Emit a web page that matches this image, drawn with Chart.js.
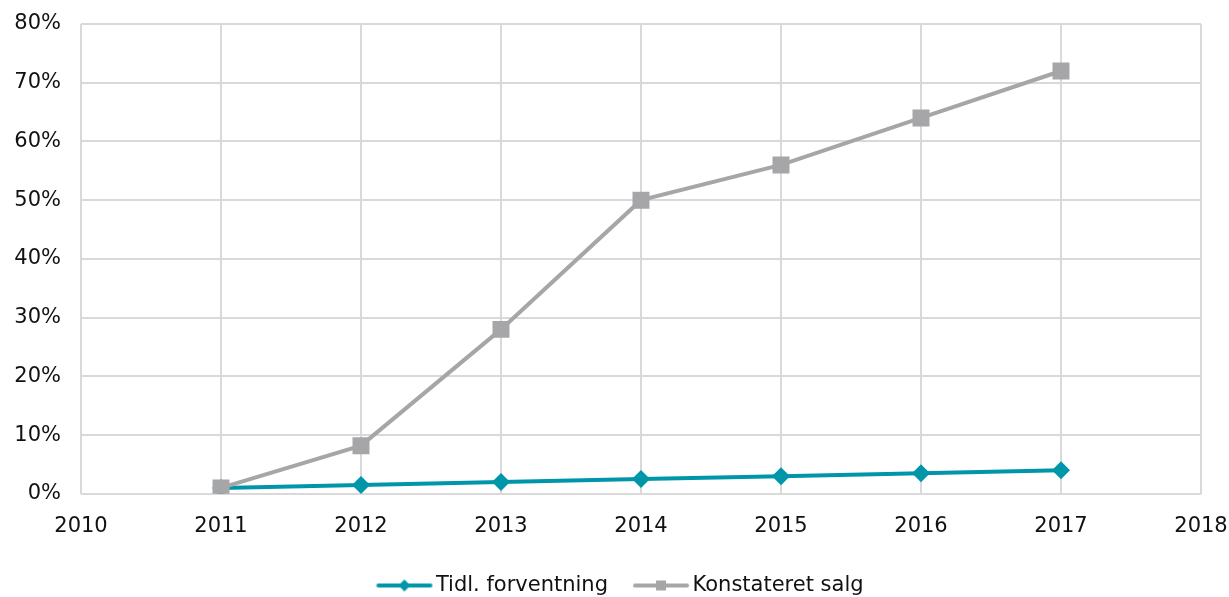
<!DOCTYPE html>
<html lang="da">
<head>
<meta charset="utf-8">
<title>Tidl. forventning vs. konstateret salg</title>
<script src="https://cdn.jsdelivr.net/npm/chart.js@4"></script>
<style>
  html, body { margin: 0; padding: 0; background: #fff; }
  #wrap { width: 1229px; height: 597px; }
</style>
</head>
<body>
<div id="wrap"><canvas id="chart"></canvas></div>
<script>
// ---- data ----
const years = [2011, 2012, 2013, 2014, 2015, 2016, 2017];
const tidlForventning = [1, 1.5, 2, 2.5, 3, 3.5, 4];
const konstateretSalg = [1, 8.2, 28, 50, 56, 64, 72];
const seriesNames = ['Tidl. forventning', 'Konstateret salg'];

const TEAL = '#0096A9';
const GREY = '#A6A6A9';
const GRID = '#D9D9D9';
const FONT = 'DejaVu Sans, Verdana, sans-serif';

// legend sample: a short line with the marker in the middle,
// drawn in the right part of the icon so the label sits close to it
function legendIcon(color, shape) {
  const c = document.createElement('canvas');
  c.width = 74; c.height = 14;
  const g = c.getContext('2d');
  g.strokeStyle = color;
  g.lineWidth = 4;
  g.lineCap = 'round';
  g.beginPath(); g.moveTo(19, 7); g.lineTo(71, 7); g.stroke();
  g.fillStyle = color;
  if (shape === 'diamond') {
    g.beginPath(); g.moveTo(45, 1); g.lineTo(51, 7); g.lineTo(45, 13); g.lineTo(39, 7); g.closePath(); g.fill();
  } else {
    g.fillRect(40, 2, 10, 10);
  }
  return c;
}
const icons = [legendIcon(TEAL, 'diamond'), legendIcon(GREY, 'square')];

const toPoints = (vals) => vals.map((v, i) => ({ x: years[i], y: v }));

// nudge the legend row a little to the right
const legendShift = {
  id: 'legendShift',
  afterLayout(chart) {
    if (chart.legend) { chart.legend.left += 15; chart.legend.right += 15; }
  }
};

new Chart(document.getElementById('chart'), {
  type: 'line',
  plugins: [legendShift],
  data: {
    datasets: [
      {
        label: seriesNames[0],
        data: toPoints(tidlForventning),
        borderColor: TEAL,
        backgroundColor: TEAL,
        borderWidth: 4,
        pointStyle: 'rectRot',
        pointRadius: 9,
        pointHoverRadius: 9,
        pointBorderWidth: 0,
        order: 1
      },
      {
        // grey series sits on top (its 2011 square covers the diamond)
        label: seriesNames[1],
        data: toPoints(konstateretSalg),
        borderColor: GREY,
        backgroundColor: GREY,
        borderWidth: 4,
        pointStyle: 'rect',
        pointRadius: 12,
        pointHoverRadius: 12,
        pointBorderWidth: 0,
        order: 0
      }
    ]
  },
  options: {
    responsive: true,
    maintainAspectRatio: false,
    animation: false,
    layout: { padding: { top: 24, right: 28, bottom: -9, left: 0 } },
    scales: {
      x: {
        type: 'linear',
        min: 2010,
        max: 2018,
        afterFit: (scale) => { scale.paddingLeft = 0; scale.paddingRight = 0; },
        ticks: {
          stepSize: 1,
          color: '#111',
          font: { family: FONT, size: 21 },
          padding: 20,
          callback: (v) => String(v)
        },
        grid: { color: GRID, lineWidth: 2, drawTicks: false },
        border: { display: false }
      },
      y: {
        min: 0,
        max: 80,
        afterFit: (scale) => { scale.width = 81; scale.paddingTop = 0; scale.paddingBottom = 0; },
        ticks: {
          stepSize: 10,
          color: '#111',
          font: { family: FONT, size: 21 },
          padding: 20,
          callback: (v) => v + '%'
        },
        grid: { color: GRID, lineWidth: 2, drawTicks: false },
        border: { display: false }
      }
    },
    plugins: {
      legend: {
        position: 'bottom',
        labels: {
          color: '#111',
          font: { family: FONT, size: 21 },
          usePointStyle: true,
          pointStyleWidth: 58,
          padding: 16,
          generateLabels: (chart) => chart.data.datasets.map((ds, i) => ({
            text: ds.label,
            datasetIndex: i,
            pointStyle: icons[i],
            fillStyle: ds.borderColor,
            strokeStyle: ds.borderColor,
            lineWidth: 0,
            fontColor: '#111'
          }))
        }
      },
      tooltip: { enabled: false }
    }
  }
});
</script>
</body>
</html>
